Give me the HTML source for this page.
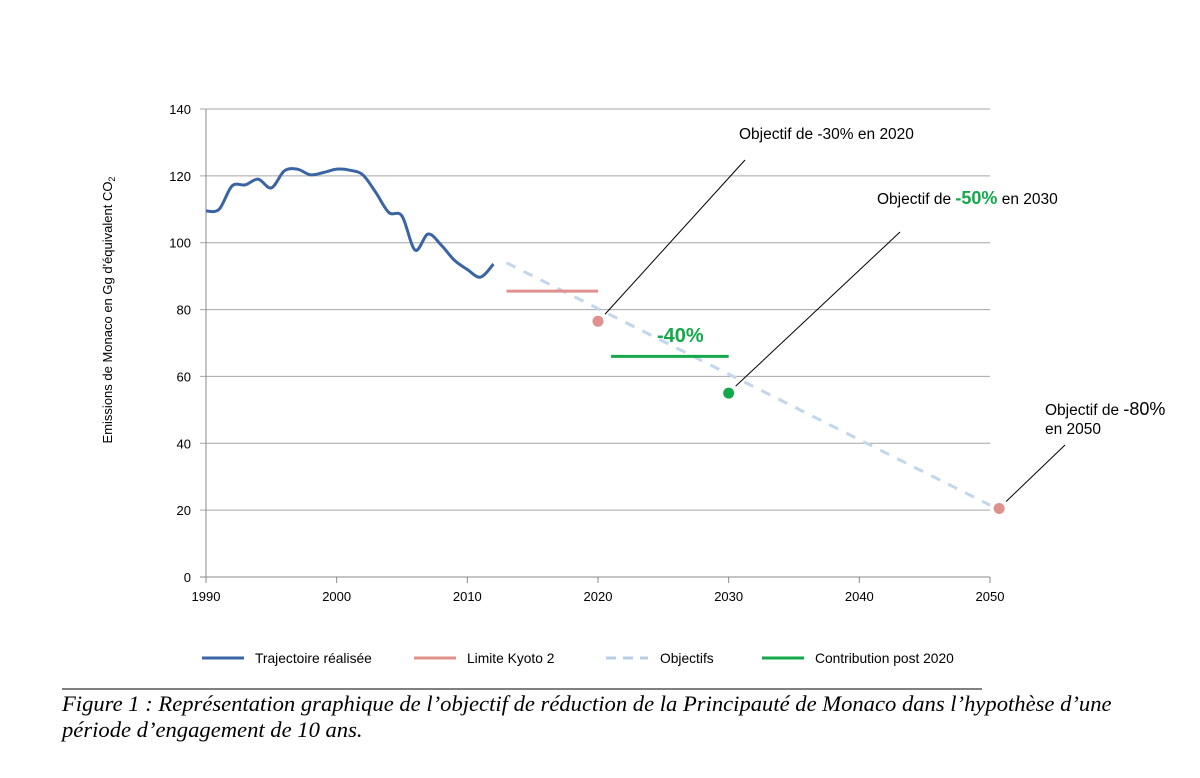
<!DOCTYPE html>
<html><head><meta charset="utf-8"><style>
body{margin:0;background:#fff;width:1200px;height:778px;overflow:hidden;font-family:"Liberation Sans",sans-serif}
svg{position:absolute;left:0;top:0}
</style></head><body>
<svg width="1200" height="778">
<g id="grid"></g><g id="marks"></g><g id="ann"></g>
<text transform="translate(112,310) rotate(-90)" text-anchor="middle" font-size="13">Emissions de Monaco en Gg d'équivalent CO<tspan font-size="9" dy="3">2</tspan></text>
<g font-size="13.8">
<line x1="202" y1="658" x2="244" y2="658" stroke="#3a64a3" stroke-width="3"/><text x="255" y="663">Trajectoire réalisée</text>
<line x1="414" y1="658" x2="456" y2="658" stroke="#e0908d" stroke-width="3"/><text x="467" y="663">Limite Kyoto 2</text>
<line x1="606" y1="658" x2="648" y2="658" stroke="#b9cfe8" stroke-width="3" stroke-dasharray="10,7"/><text x="660" y="663">Objectifs</text>
<line x1="762" y1="658" x2="804" y2="658" stroke="#14a84a" stroke-width="3"/><text x="815" y="663">Contribution post 2020</text>
</g>
<line x1="62" y1="689" x2="982" y2="689" stroke="#000" stroke-width="1"/>
<text x="62" y="711" font-family="Liberation Serif" font-style="italic" font-size="22.6">Figure 1 : Représentation graphique de l’objectif de réduction de la Principauté de Monaco dans l’hypothèse d’une</text>
<text x="62" y="737" font-family="Liberation Serif" font-style="italic" font-size="22.6">période d’engagement de 10 ans.</text>
</svg>
<script>
const years=[1990,1991,1992,1993,1994,1995,1996,1997,1998,1999,2000,2001,2002,2003,2004,2005,2006,2007,2008,2009,2010,2011,2012];
const emissions=[109.5,110,117,117.3,119,116.4,121.5,122,120.3,121,122,121.7,120.3,115,109,108,97.8,102.6,99.3,94.8,92,89.7,93.6];
const objYears=[2013,2050];
const objValues=[94,21.5];
const kyotoYears=[2013,2020];const kyotoValue=85.5;
const contribYears=[2021,2030];const contribValue=66;
const targetYears=[2020,2030,2050.7];
const targetValues=[76.5,55,20.5];
const yTicks=[0,20,40,60,80,100,120,140];
const xTicks=[1990,2000,2010,2020,2030,2040,2050];
const X=y=>206+(y-1990)*(784/60);
const Y=v=>577-v*(468/140);
const NS="http://www.w3.org/2000/svg";
function mk(p,t,a){const e=document.createElementNS(NS,t);for(const k in a)e.setAttribute(k,a[k]);p.appendChild(e);return e;}
const g=document.getElementById('grid'),m=document.getElementById('marks'),an=document.getElementById('ann');
yTicks.forEach(v=>{const l=mk(g,'line',{x1:200,x2:990,y1:Y(v),y2:Y(v),stroke:v?'#a6a6a6':'#888','stroke-width':1});


const t=mk(g,'text',{x:191,y:Y(v)+5,'text-anchor':'end','font-size':13});t.textContent=v;

});
mk(g,'line',{x1:206,x2:206,y1:109,y2:577,stroke:'#888'});
xTicks.forEach(y=>{mk(g,'line',{x1:X(y),x2:X(y),y1:577,y2:583,stroke:'#888'});
const t=mk(g,'text',{x:X(y),y:601,'text-anchor':'middle','font-size':13});t.textContent=y;

});
const pts=years.map((y,i)=>[X(y),Y(emissions[i])]);
let d='M'+pts[0];
for(let i=0;i<pts.length-1;i++){const p0=pts[Math.max(0,i-1)],p1=pts[i],p2=pts[i+1],p3=pts[Math.min(pts.length-1,i+2)];
d+=` C${p1[0]+(p2[0]-p0[0])/6},${p1[1]+(p2[1]-p0[1])/6} ${p2[0]-(p3[0]-p1[0])/6},${p2[1]-(p3[1]-p1[1])/6} ${p2[0]},${p2[1]}`;}
const tr=mk(m,'path',{d,fill:'none',stroke:'#3a64a3','stroke-width':3});


const ob=mk(m,'line',{x1:X(objYears[0]),y1:Y(objValues[0]),x2:X(objYears[1]),y2:Y(objValues[1]),stroke:'#c3d6ec','stroke-width':3,'stroke-dasharray':'10,9'});


const ky=mk(m,'line',{x1:X(kyotoYears[0]),x2:X(kyotoYears[1]),y1:Y(kyotoValue),y2:Y(kyotoValue),stroke:'#e0908d','stroke-width':3});


const co=mk(m,'line',{x1:X(contribYears[0]),x2:X(contribYears[1]),y1:Y(contribValue),y2:Y(contribValue),stroke:'#14a84a','stroke-width':3});


const cols=['#e0908d','#14a84a','#e0908d'];
const ends=[[745,160],[900,232],[1065,445]];
targetYears.forEach((y,i)=>{const cx=X(y),cy=Y(targetValues[i]);
mk(an,'line',{x1:cx+7,y1:cy-7,x2:ends[i][0],y2:ends[i][1],stroke:'#000','stroke-width':1});
const c=mk(m,'circle',{cx,cy,r:5.5,fill:cols[i]});

});
function txt(x,y,html,name){const t=mk(an,'text',{x,y,'font-size':15.5});t.innerHTML=html;

}
txt(739,139,'Objectif de -30% en 2020','annotation-2020');
txt(877,204,'Objectif de <tspan fill="#14a84a" font-weight="bold" font-size="18">-50%</tspan> en 2030','annotation-2030');
txt(1045,415,'Objectif de <tspan font-size="18">-80%</tspan>','annotation-2050');
txt(1045,434,'en 2050','annotation-2050-b');
txt(657,342,'<tspan fill="#14a84a" font-weight="bold" font-size="20">-40%</tspan>','label-40pct');
</script>
</body></html>
